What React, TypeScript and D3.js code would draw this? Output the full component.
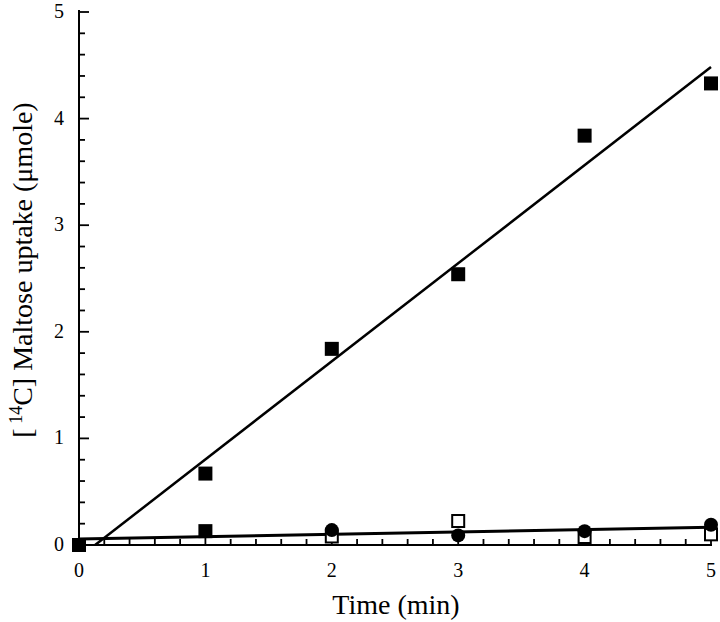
import React from "react";
import * as d3 from "d3";

const timeHigh = [0, 1, 2, 3, 4, 5];
const uptakeHigh = [0, 0.67, 1.84, 2.54, 3.84, 4.33];

const timeLowSquare = [0, 1];
const uptakeLowSquare = [0, 0.13];

const timeCircle = [2, 3, 4, 5];
const uptakeCircle = [0.14, 0.09, 0.13, 0.19];

const timeOpen = [2, 3, 4, 5];
const uptakeOpen = [0.08, 0.225, 0.075, 0.1];

const fitHigh = { slope: 0.92, intercept: -0.117 };
const fitLow = { slope: 0.022, intercept: 0.056 };

const xTicks = [0, 1, 2, 3, 4, 5];
const yTicks = [0, 1, 2, 3, 4, 5];

export default function App() {
  const W = 720, H = 622;
  const x = d3.scaleLinear().domain([0, 5]).range([79, 711]);
  const y = d3.scaleLinear().domain([0, 5]).range([545, 12]);
  const font = "'Liberation Serif', 'Times New Roman', serif";
  const xMinor = d3.range(0, 5.001, 0.2);
  const yMinor = d3.range(0, 5.001, 0.2);
  const line = d3.line<number>().x((d) => x(d[0])).y((d) => y(d[1]));
  const highStart = -fitHigh.intercept / fitHigh.slope;
  const highPts: any = [[highStart, 0], [5, fitHigh.intercept + fitHigh.slope * 5]];
  const lowPts: any = [[0, fitLow.intercept], [5, fitLow.intercept + fitLow.slope * 5]];
  const sq = 14;
  const osq = 12;
  return (
    <svg width={W} height={H} style={{ position: "absolute", left: 0, top: 0, background: "#fff" }}>
      <rect width={W} height={H} fill="#fff" />
      {/* axes */}
      <line x1={x(0)} x2={x(0)} y1={y(5) - 2} y2={y(0) + 1} stroke="#000" strokeWidth={2} />
      <line x1={x(0) - 1} x2={x(5) + 1} y1={y(0)} y2={y(0)} stroke="#000" strokeWidth={2} />
      {yMinor.map((v, i) => {
        const major = Math.abs(v - Math.round(v)) < 1e-6;
        return (
          <line key={"ym" + i} x1={x(0)} x2={x(0) + (major ? 10 : 6)} y1={y(v)} y2={y(v)} stroke="#000" strokeWidth={1.8} />
        );
      })}
      {xMinor.map((v, i) => {
        const major = Math.abs(v - Math.round(v)) < 1e-6;
        return (
          <line key={"xm" + i} x1={x(v)} x2={x(v)} y1={y(0)} y2={y(0) - (major ? 9 : 6)} stroke="#000" strokeWidth={1.8} />
        );
      })}
      {yTicks.map((v) => (
        <text key={"yt" + v} x={x(0) - 15} y={y(v) + 6} textAnchor="end" fontFamily={font} fontSize={20}>{v}</text>
      ))}
      {xTicks.map((v) => (
        <text key={"xt" + v} x={x(v)} y={y(0) + 32} textAnchor="middle" fontFamily={font} fontSize={20}>{v}</text>
      ))}
      <text x={396} y={614} textAnchor="middle" fontFamily={font} fontSize={28}>Time (min)</text>
      <text transform={`translate(32,270) rotate(-90)`} textAnchor="middle" fontFamily={font} fontSize={28}>
        [<tspan fontSize={18} dy={-10}> 14</tspan><tspan dy={10}>C] Maltose uptake (μmole)</tspan>
      </text>
      {/* fit lines */}
      <path d={line(highPts) || ""} stroke="#000" strokeWidth={2.5} fill="none" />
      <path d={line(lowPts) || ""} stroke="#000" strokeWidth={3} fill="none" />
      {/* markers */}
      {timeOpen.map((t, i) => (
        <rect key={"o" + i} x={x(t) - osq / 2} y={y(uptakeOpen[i]) - osq / 2} width={osq} height={osq} fill="#fff" stroke="#000" strokeWidth={2} />
      ))}
      {timeCircle.map((t, i) => (
        <circle key={"c" + i} cx={x(t)} cy={y(uptakeCircle[i])} r={7} fill="#000" />
      ))}
      {timeLowSquare.map((t, i) => (
        <rect key={"l" + i} x={x(t) - sq / 2} y={y(uptakeLowSquare[i]) - sq / 2} width={sq} height={sq} fill="#000" />
      ))}
      {timeHigh.map((t, i) => (
        <rect key={"h" + i} x={x(t) - sq / 2} y={y(uptakeHigh[i]) - sq / 2} width={sq} height={sq} fill="#000" />
      ))}
    </svg>
  );
}
